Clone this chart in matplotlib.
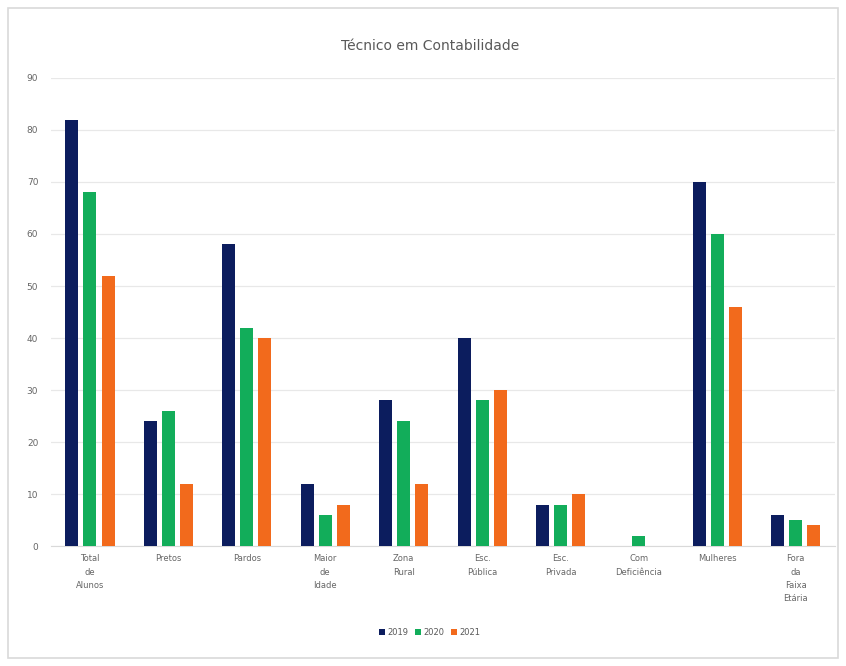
import numpy as np
from matplotlib import pyplot as plt
from matplotlib.patches import Rectangle

# Data
categories = ['Total\nde\nAlunos', 'Pretos', 'Pardos', 'Maior\nde\nIdade', 'Zona\nRural',
              'Esc.\nPública', 'Esc.\nPrivada', 'Com\nDeficiência', 'Mulheres',
              'Fora\nda\nFaixa\nEtária']
series_names = ['2019', '2020', '2021']
values_2019 = [82, 24, 58, 12, 28, 40, 8, 0, 70, 6]
values_2020 = [68, 26, 42, 6, 24, 28, 8, 2, 60, 5]
values_2021 = [52, 12, 40, 8, 12, 30, 10, 0, 46, 4]
y_ticks = [0, 10, 20, 30, 40, 50, 60, 70, 80, 90]

colors = ['#0c1d5e', '#12ad5a', '#f26a1c']

fig = plt.figure(figsize=(8.46, 6.66), dpi=100)
fig.patches.append(Rectangle((0.010, 0.012), 0.980, 0.976, transform=fig.transFigure,
                             fill=False, edgecolor='#d9d9d9', linewidth=1.2))

ax = fig.add_axes([0.060, 0.180, 0.927, 0.703])
x = np.arange(len(categories))
w = 0.166
step = 0.23
for i, vals in enumerate([values_2019, values_2020, values_2021]):
    ax.bar(x + (i - 1) * step, vals, w, color=colors[i], label=series_names[i], zorder=3)

ax.set_xlim(-0.5, len(categories) - 0.5)
ax.set_ylim(0, 90)
ax.set_yticks(y_ticks)
ax.set_xticks(x)
ax.set_xticklabels(categories, fontsize=6, color='#666666', linespacing=1.6)
ax.tick_params(axis='y', labelsize=6.5, labelcolor='#666666', length=0, pad=9)
ax.tick_params(axis='x', length=0, pad=6)
ax.grid(axis='y', color='#e8e8e8', linewidth=0.9, zorder=0)
for s in ax.spines.values():
    s.set_visible(False)
ax.spines['bottom'].set_visible(True)
ax.spines['bottom'].set_color('#d9d9d9')

fig.text(0.508, 0.931, 'Técnico em Contabilidade', ha='center', va='center',
         fontsize=10, color='#595959')

fig.legend(loc='center', bbox_to_anchor=(0.508, 0.051), ncol=3, frameon=False,
           fontsize=6, handlelength=0.7, handleheight=0.7, columnspacing=0.8,
           handletextpad=0.3, labelcolor='#595959')

fig.savefig('out.png', dpi=100)
